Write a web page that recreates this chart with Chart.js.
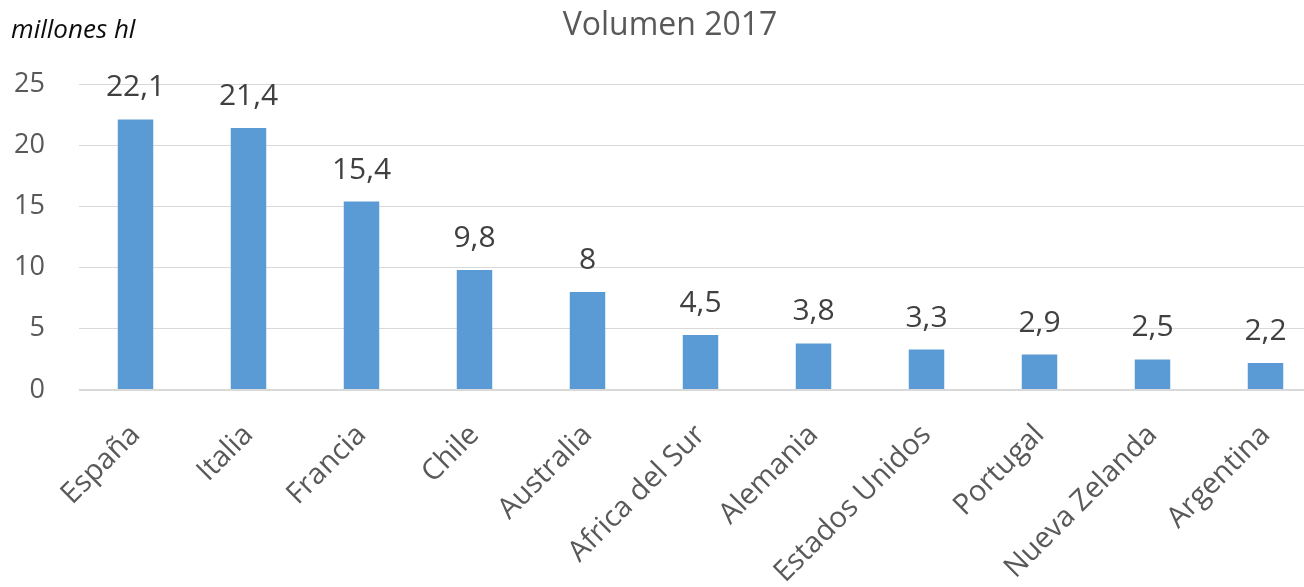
<!DOCTYPE html>
<html>
<head>
<meta charset="utf-8">
<script src="https://cdn.jsdelivr.net/npm/chart.js@4"></script>
<style>
  html, body { margin: 0; padding: 0; background: #fff; overflow: hidden; }
  #wrap { width: 1304px; height: 587px; overflow: hidden; position: relative; }
</style>
</head>
<body>
<div id="wrap"><canvas id="chart" width="1340" height="587"></canvas></div>
<script>
const categories = ['España', 'Italia', 'Francia', 'Chile', 'Australia', 'Africa del Sur',
  'Alemania', 'Estados Unidos', 'Portugal', 'Nueva Zelanda', 'Argentina'];
const volumen = [22.1, 21.4, 15.4, 9.8, 8, 4.5, 3.8, 3.3, 2.9, 2.5, 2.2];
const yTicks = [0, 5, 10, 15, 20, 25];

const chartTitle = 'Volumen 2017';
const unitLabel = 'millones hl';
const FONT = '"Open Sans", "Noto Sans", sans-serif';

function formatValue(v) {
  return String(v).replace('.', ',');
}

const textPlugin = {
  id: 'texts',
  afterDraw(chart) {
    const ctx = chart.ctx;
    ctx.save();
    ctx.fillStyle = '#595959';
    ctx.font = `32px ${FONT}`;
    ctx.textAlign = 'center';
    ctx.textBaseline = 'alphabetic';
    ctx.fillText(chartTitle, chart.width / 2, 35);

    ctx.fillStyle = '#0d0d0d';
    ctx.font = `italic 26px ${FONT}`;
    ctx.textAlign = 'left';
    ctx.fillText(unitLabel, 11, 38);
    ctx.restore();
  },
  afterDatasetsDraw(chart) {
    const ctx = chart.ctx;
    const meta = chart.getDatasetMeta(0);
    ctx.save();
    ctx.fillStyle = '#404040';
    ctx.font = `30px ${FONT}`;
    ctx.textAlign = 'center';
    ctx.textBaseline = 'alphabetic';
    meta.data.forEach((bar, i) => {
      ctx.fillText(formatValue(volumen[i]), bar.x, bar.y - 23);
    });
    ctx.restore();
  },
};

new Chart(document.getElementById('chart'), {
  type: 'bar',
  data: {
    labels: categories,
    datasets: [{
      label: chartTitle,
      data: volumen,
      backgroundColor: '#5B9BD5',
      borderWidth: 0,
      categoryPercentage: 1,
      barPercentage: 0.314,
    }],
  },
  options: {
    responsive: false,
    animation: false,
    devicePixelRatio: 1,
    layout: {
      padding: { top: 84, right: 18, bottom: 0, left: 0 },
    },
    plugins: {
      legend: { display: false },
      tooltip: { enabled: false },
    },
    scales: {
      x: {
        grid: { display: false },
        border: { display: false },
        ticks: {
          color: '#595959',
          font: { family: FONT, size: 29 },
          minRotation: 45,
          maxRotation: 45,
          padding: 20,
        },
        afterFit(scale) {
          scale.height = 197;
        },
      },
      y: {
        min: 0,
        max: 25,
        afterBuildTicks(scale) {
          scale.ticks = yTicks.map(v => ({ value: v }));
        },
        grid: {
          color: '#D9D9D9',
          lineWidth: ctx => (ctx.tick && ctx.tick.value === 0 ? 2 : 1),
          drawTicks: false,
        },
        border: { display: false },
        ticks: {
          color: '#595959',
          font: { family: FONT, size: 27 },
          padding: 34,
        },
        afterFit(scale) {
          scale.width = 79;
        },
      },
    },
  },
  plugins: [textPlugin],
});
</script>
</body>
</html>
